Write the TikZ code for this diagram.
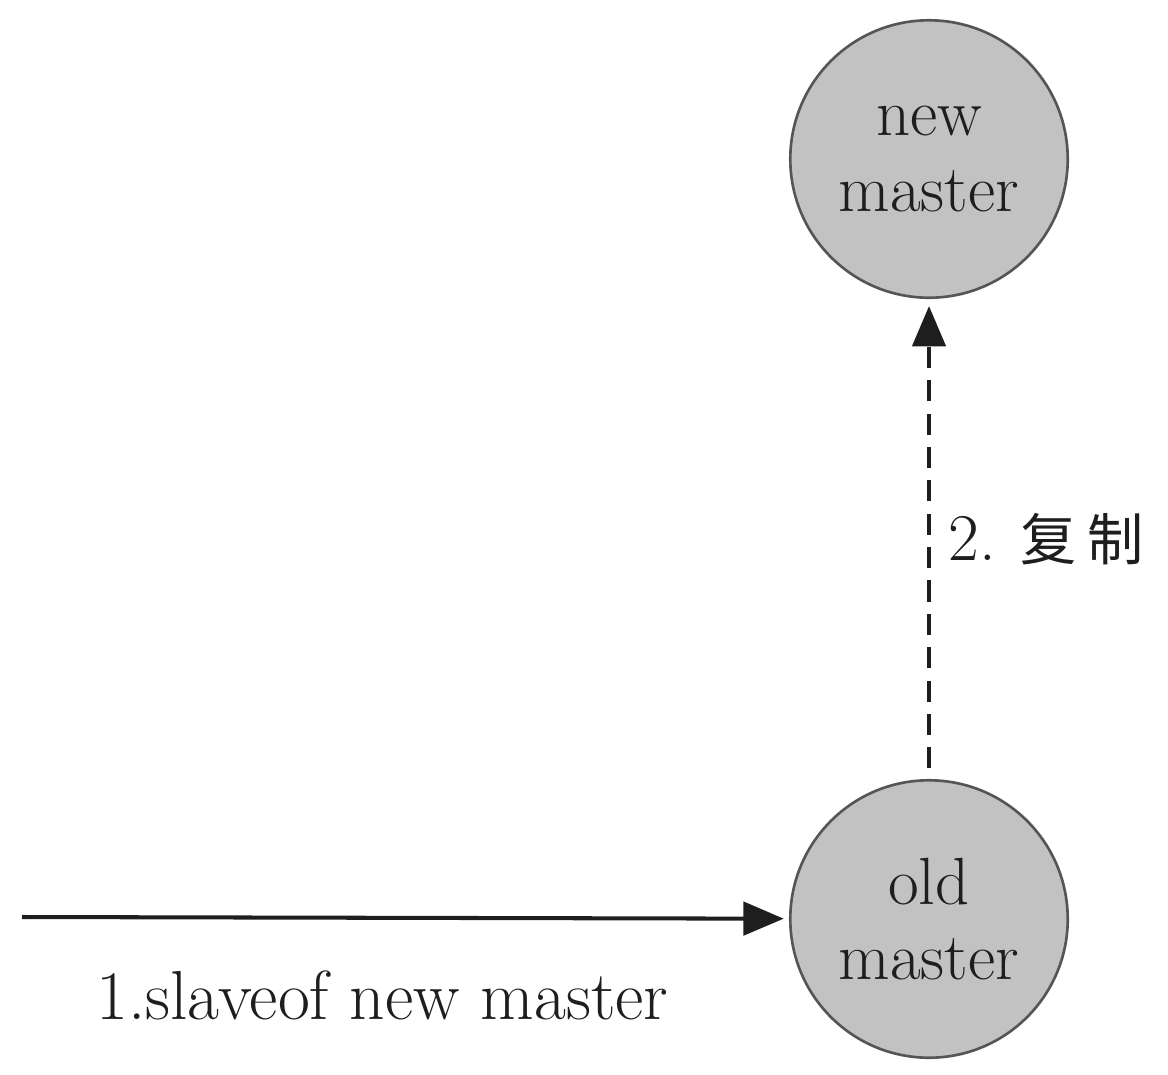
\documentclass[tikz,border=0pt]{standalone}
\usepackage{fontspec}
\newfontfamily\cjkfont{Noto Sans CJK SC}
\usepackage{xcolor}
\usepackage{tikz}
\usetikzlibrary{arrows.meta,positioning}
\definecolor{RSFill}{HTML}{C2C2C2}
\definecolor{RSEdge}{HTML}{555555}
\definecolor{RSInk}{HTML}{1E1E1E}
\newcommand{\bigfont}{\fontsize{38}{43}\selectfont}
\tikzset{
  >={Triangle[length=23pt,width=19pt]},
  rsmaster/.style={circle, draw=RSEdge, line width=1.5pt, fill=RSFill,
    minimum size=5.55cm, inner sep=0pt, align=center, text=RSInk,
    font=\bigfont},
  rslabel/.style={inner sep=0pt, text=RSInk, font=\bigfont},
  rsarrow/.style={->, line width=2.3pt, draw=RSInk},
  rscopy/.style={->, line width=2.1pt, draw=RSInk,
    dash pattern=on 12pt off 7pt}
}
\begin{document}
\begin{tikzpicture}[x=0.02cm, y=-0.02cm, node distance=9.6cm]
  \useasboundingbox (0,0) rectangle (1168,1074);

  \node[rsmaster] (old) at (929,919) {old\\master};
  \node[rsmaster, above=of old] (new) {new\\master};
  \coordinate (client) at (22,917);

  \draw[rsarrow, shorten >=3pt] (client) -- (old)
    node[rslabel, pos=0.47, below=29pt, font=\fontsize{39.5}{44}\selectfont]
    (cmd) {1.slaveof new master};
  \draw[rscopy, shorten <=6pt, shorten >=4pt] (old) -- (new)
    node[rslabel, midway, right=10pt] (sync)
    {2.\hspace{14pt}{\cjkfont\fontsize{32}{38}\selectfont 复\hspace{6pt}制}};
\end{tikzpicture}
\end{document}
